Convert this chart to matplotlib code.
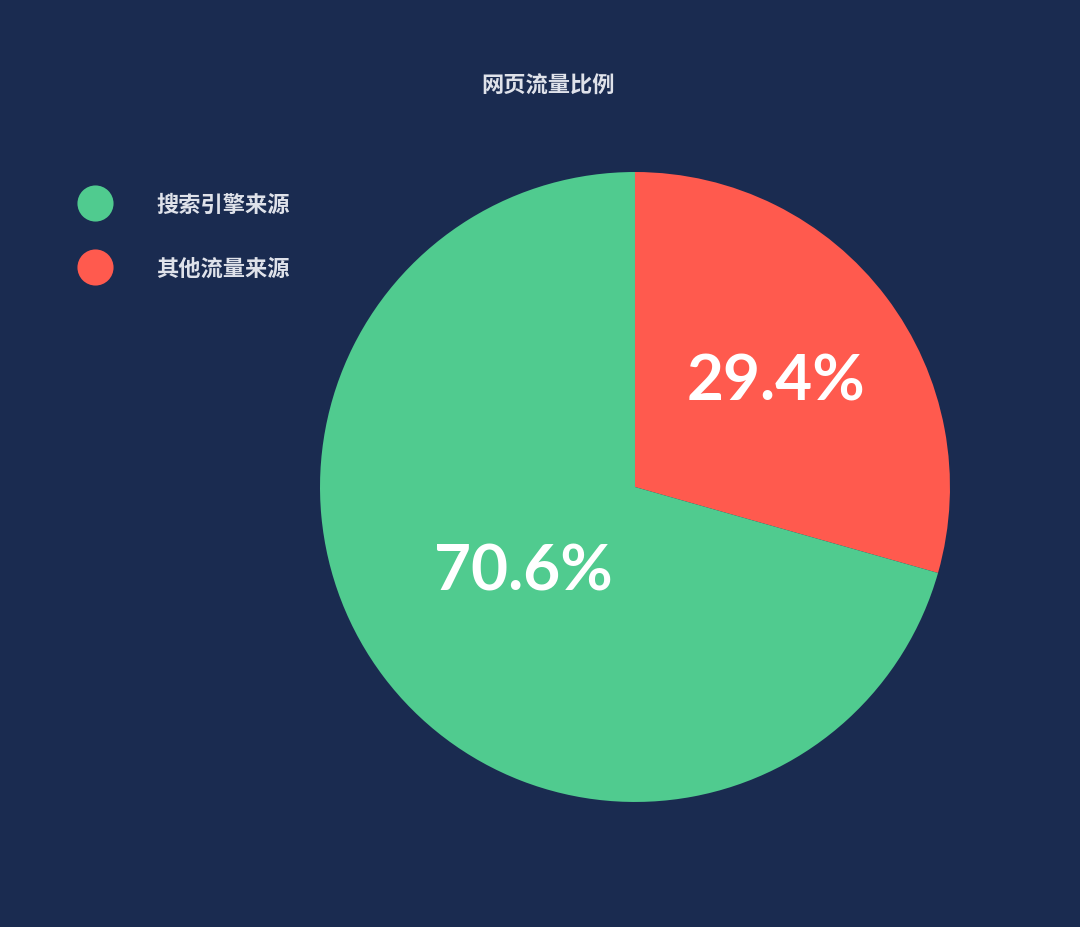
import matplotlib.pyplot as plt
from matplotlib.lines import Line2D

# 数据
labels = ['其他流量来源', '搜索引擎来源']
values = [29.4, 70.6]
colors = ['#ff5a4e', '#50cb8f']
legend_order = ['搜索引擎来源', '其他流量来源']
title = '网页流量比例'

bg = '#1a2b50'
text_color = '#dfe2ea'
plt.rcParams['font.family'] = ['Noto Sans CJK SC', 'DejaVu Sans']

fig = plt.figure(figsize=(10.8, 9.28), dpi=100, facecolor=bg)
ax = fig.add_axes([0.2963, 0.1347, 0.5833, 0.6789])
ax.set_facecolor(bg)

wedges, texts, autotexts = ax.pie(
    values,
    colors=colors,
    startangle=90,
    counterclock=False,
    autopct='%1.1f%%',
    pctdistance=0.56,
    wedgeprops={'linewidth': 0},
    textprops={'color': 'white', 'fontsize': 46, 'fontweight': 'bold',
               'family': ['Lato', 'DejaVu Sans']},
)
# 大扇区的标签更靠近圆心
x, y = autotexts[1].get_position()
autotexts[1].set_position((x * 0.79, y * 0.79))

ax.set_xlim(-1, 1)
ax.set_ylim(-1, 1)
ax.set_aspect('equal')
ax.axis('off')

fig.text(0.507, 0.907, title, ha='center', va='center', fontsize=16,
         fontweight='bold', color=text_color)

handles = [Line2D([], [], marker='o', linestyle='none', markersize=26,
                  markerfacecolor=colors[labels.index(l)], markeredgewidth=0)
           for l in legend_order]
leg = fig.legend(handles, legend_order, loc='upper left',
                 bbox_to_anchor=(0.0544, 0.8125), frameon=False,
                 fontsize=16, labelspacing=1.85, handletextpad=2.0,
                 handlelength=1.5)
for t in leg.get_texts():
    t.set_color(text_color)
    t.set_fontweight('bold')

fig.savefig('out.png', dpi=100, facecolor=bg)
